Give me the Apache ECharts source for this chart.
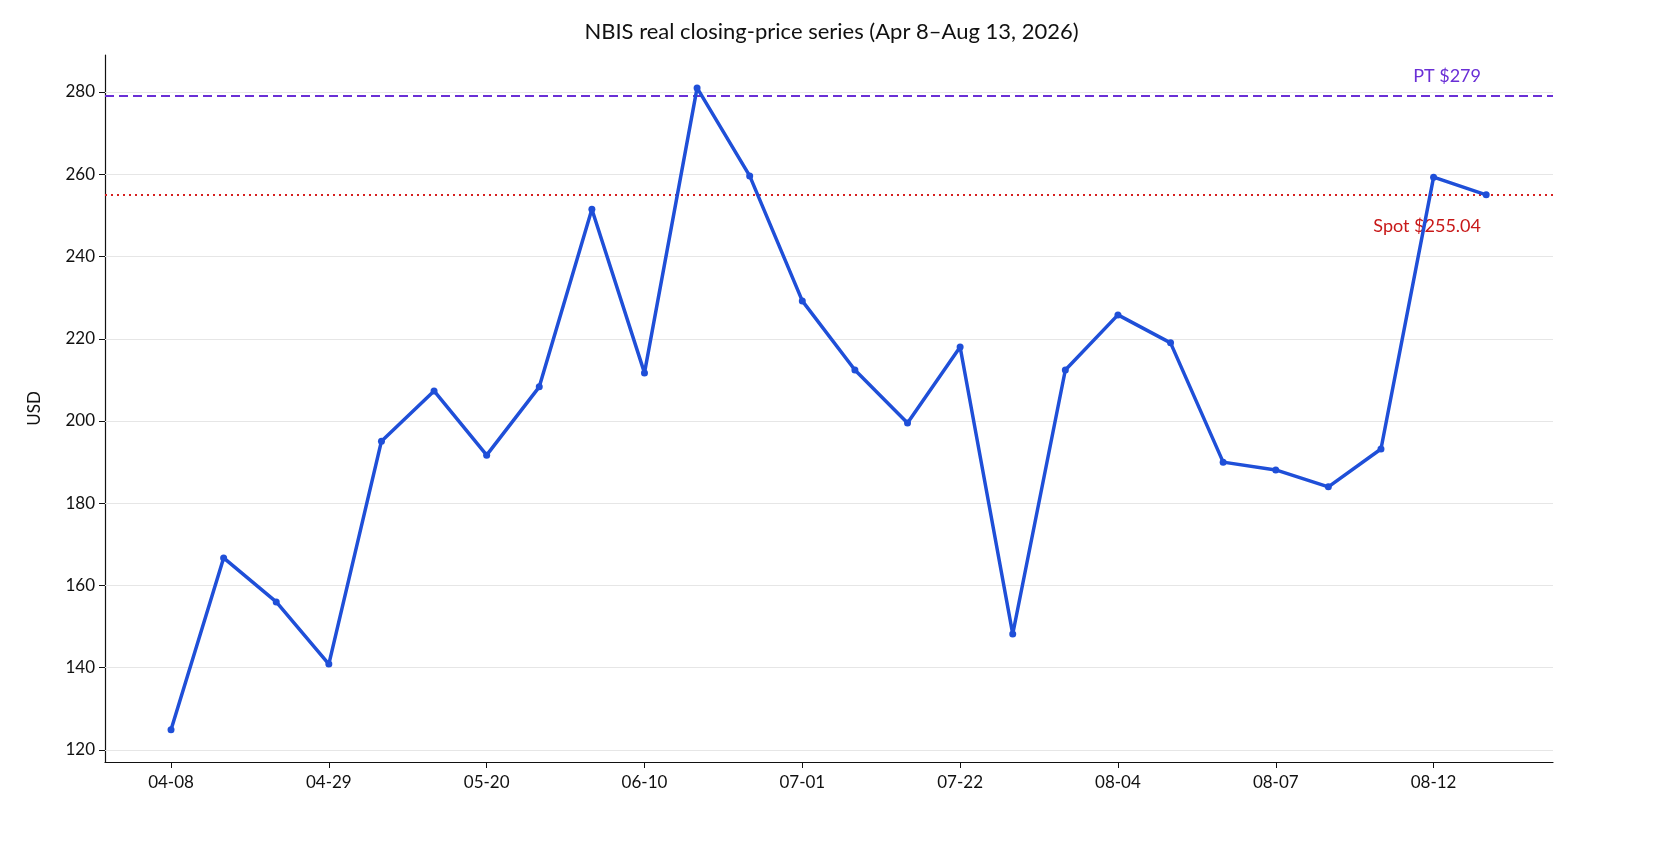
<!DOCTYPE html>
<html><head><meta charset="utf-8">
<script src="https://cdn.jsdelivr.net/npm/echarts@6/dist/echarts.min.js"></script>
<style>html,body{margin:0;padding:0;background:#fff}#c{width:1663px;height:868px}</style>
</head><body><div id="c"></div>
<script>
const categories = ['04-08','04-15','04-22','04-29','05-06','05-13','05-20','05-27','06-03','06-10','06-17','06-24','07-01','07-08','07-15','07-22','07-27','07-30','08-04','08-05','08-06','08-07','08-10','08-11','08-12','08-13'];
const prices = [124.9,166.7,156,140.9,195.1,207.3,191.7,208.3,251.5,211.7,281,259.6,229.2,212.4,199.5,218,148.2,212.4,225.8,219,190,188.1,184,193.2,259.3,255];
const yTicks = [120,140,160,180,200,220,240,260,280];
const xTickIdx = [0,3,6,9,12,15,18,21,24];
const priceTarget = 279, spot = 255.04;
const font = 'Lato';
const chart = echarts.init(document.getElementById('c'));
chart.setOption({
  animation:false,
  textStyle:{fontFamily:font},
  title:{text:'NBIS real closing-price series (Apr 8–Aug 13, 2026)',left:'center',top:16,textStyle:{fontFamily:font,fontSize:22,fontWeight:'normal',color:'#111'}},
  grid:{left:105,right:110,top:55,bottom:106},
  xAxis:{type:'value',min:-1.255,max:26.27,
    axisLine:{onZero:false,lineStyle:{color:'#111',width:1.2}},
    axisTick:{customValues:xTickIdx,length:6,lineStyle:{color:'#111'}},
    axisLabel:{customValues:xTickIdx,formatter:v=>categories[Math.round(v)]||'',fontSize:17,color:'#111',margin:12},
    splitLine:{show:false}},
  yAxis:{type:'value',min:117.08,max:289,name:'USD',nameLocation:'middle',nameGap:62,nameTextStyle:{fontSize:17,color:'#111'},
    axisLine:{show:true,onZero:false,lineStyle:{color:'#111',width:1.2}},
    axisTick:{show:true,customValues:yTicks,length:6,lineStyle:{color:'#111'}},
    axisLabel:{customValues:yTicks,fontSize:17,color:'#111',margin:10},
    splitLine:{show:false}},
  series:[
    {type:'line',data:yTicks.map(v=>[0,v]),symbol:'none',lineStyle:{opacity:0},silent:true,
     markLine:{silent:true,symbol:'none',label:{show:false},lineStyle:{color:'#e6e6e6',type:'solid',width:1},data:yTicks.map(v=>({yAxis:v}))}},
    {type:'line',data:prices.map((p,i)=>[i,p]),symbol:'circle',symbolSize:7,
     lineStyle:{color:'#1f4fd8',width:3.5},itemStyle:{color:'#1f4fd8'},z:5,
     markLine:{silent:true,symbol:'none',data:[
       {yAxis:priceTarget,lineStyle:{color:'#6a2fd6',type:[9,5],width:2.2},
        label:{show:true,formatter:'PT $279',position:'insideEndTop',color:'#6a2fd6',fontSize:18,offset:[-67,-6]}},
       {yAxis:spot,lineStyle:{color:'#d62020',type:[2,4],width:2},
        label:{show:true,formatter:'Spot $255.04',position:'insideEndBottom',color:'#c81818',fontSize:18,offset:[-67,18]}}
     ]}}
  ]
});
</script></body></html>
